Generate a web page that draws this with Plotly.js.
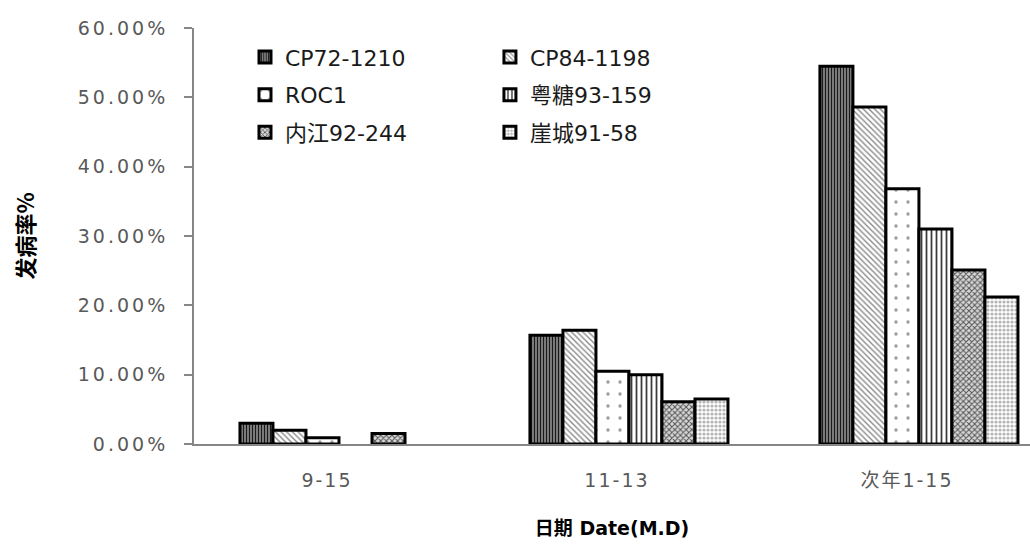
<!DOCTYPE html>
<html>
<head>
<meta charset="utf-8">
<script src="https://cdn.plot.ly/plotly-3.0.1.min.js"></script>
<style>
body{margin:0;padding:0;background:#fff;}
#chart{width:1030px;height:546px;}
#chart .ytick text{letter-spacing:3px;}
#chart .xtick text{letter-spacing:2px;}
</style>
</head>
<body>
<div id="chart"></div>
<script>
const categories = ['9-15', '11-13', '次年1-15'];
const seriesNames = ['CP72-1210', 'CP84-1198', 'ROC1', '粤糖93-159', '内江92-244', '崖城91-58'];
const cp72 = [0.030, 0.157, 0.545];
const cp84 = [0.020, 0.164, 0.486];
const roc1 = [0.009, 0.105, 0.368];
const yuetang = [null, 0.100, 0.310];
const neijiang = [0.015, 0.061, 0.251];
const yacheng = [null, 0.065, 0.212];
const yTicks = [0, 0.1, 0.2, 0.3, 0.4, 0.5, 0.6];

const seriesValues = [cp72, cp84, roc1, yuetang, neijiang, yacheng];
const patterns = [
  {shape: '|', bgcolor: '#9a9a9a', fgcolor: '#1a1a1a', size: 3, solidity: 0.5},
  {shape: '\\', bgcolor: '#ffffff', fgcolor: '#8a8a8a', size: 4, solidity: 0.35},
  {shape: '.', bgcolor: '#ffffff', fgcolor: '#9a9a9a', size: 12, solidity: 0.06},
  {shape: '|', bgcolor: '#ffffff', fgcolor: '#3a3a3a', size: 5, solidity: 0.35},
  {shape: 'x', bgcolor: '#d8d8d8', fgcolor: '#555555', size: 4, solidity: 0.45},
  {shape: '.', bgcolor: '#ffffff', fgcolor: '#b5b5b5', size: 4, solidity: 0.5}
];
const legendOf = ['legend', 'legend2', 'legend', 'legend2', 'legend', 'legend2'];

const traces = seriesNames.map((name, i) => ({
  type: 'bar',
  name: name,
  x: categories,
  y: seriesValues[i],
  legend: legendOf[i],
  legendgroup: 'g' + i,
  marker: {
    color: patterns[i].bgcolor,
    pattern: patterns[i],
    line: {color: '#000000', width: 3}
  },
  hoverinfo: 'skip'
}));

const legendFont = {family: 'DejaVu Sans, Noto Sans CJK SC, sans-serif', size: 22, color: '#1a1a1a'};
const tickFont = {family: 'DejaVu Sans, Noto Sans CJK SC, sans-serif', size: 19, color: '#595959'};

const layout = {
  width: 1030,
  height: 546,
  margin: {l: 194, r: 0, t: 28, b: 102, pad: 0},
  paper_bgcolor: '#ffffff',
  plot_bgcolor: '#ffffff',
  barmode: 'group',
  bargap: 0.317,
  bargroupgap: 0,
  showlegend: true,
  xaxis: {
    type: 'category',
    range: [-0.5, 2.383],
    showline: true,
    linecolor: '#868686',
    linewidth: 2,
    ticks: '',
    showgrid: false,
    zeroline: false,
    tickfont: tickFont,
    ticklabelstandoff: 18,
    ticklabelshift: -12,
    title: {text: '日期 Date(M.D)', font: {family: 'DejaVu Sans, Noto Sans CJK SC, sans-serif', size: 19, color: '#000000', weight: 'bold'}, standoff: 32}
  },
  yaxis: {
    range: [0, 0.6],
    tickvals: yTicks,
    tickformat: '.2%',
    showline: true,
    linecolor: '#868686',
    linewidth: 2,
    ticks: 'outside',
    ticklen: 8,
    tickwidth: 2,
    tickcolor: '#868686',
    showgrid: false,
    zeroline: false,
    tickfont: tickFont,
    ticklabelstandoff: 12,
    title: {text: '发病率%', font: {family: 'Noto Sans CJK SC, DejaVu Sans, sans-serif', size: 22, color: '#000000', weight: 'bold'}, standoff: 55}
  },
  legend: {
    x: 0.061, y: 0.98, xanchor: 'left', yanchor: 'top',
    font: legendFont, bgcolor: 'rgba(0,0,0,0)',
    traceorder: 'grouped', tracegroupgap: 6
  },
  legend2: {
    x: 0.354, y: 0.98, xanchor: 'left', yanchor: 'top',
    font: legendFont, bgcolor: 'rgba(0,0,0,0)',
    traceorder: 'grouped', tracegroupgap: 6
  }
};

Plotly.newPlot('chart', traces, layout, {displayModeBar: false, staticPlot: true});
</script>
</body>
</html>
